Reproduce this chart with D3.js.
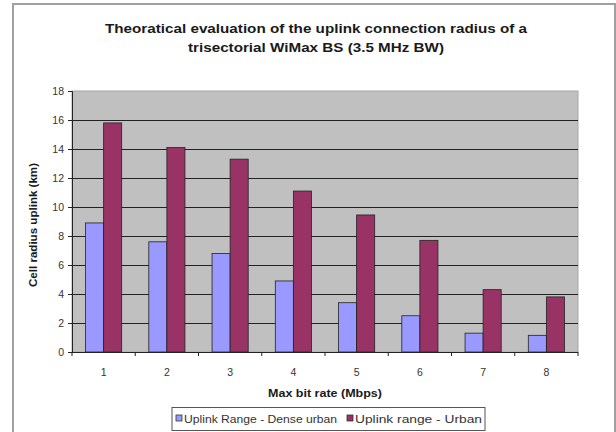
<!DOCTYPE html>
<html><head><meta charset="utf-8">
<script src="https://cdn.jsdelivr.net/npm/d3@7"></script>
<style>body{margin:0;background:#fff}svg{display:block;font-family:Arial,"Liberation Sans",sans-serif}</style>
</head><body>
<svg id="c" width="616" height="432"></svg>
<script>
const categories = ["1","2","3","4","5","6","7","8"];
const seriesNames = ["Uplink Range - Dense urban","Uplink range - Urban"];
const denseUrban = [8.9, 7.6, 6.8, 4.9, 3.4, 2.5, 1.3, 1.15];
const urban = [15.8, 14.1, 13.3, 11.1, 9.45, 7.7, 4.3, 3.8];
const yTicks = [0,2,4,6,8,10,12,14,16,18];
const colors = ["#9999ff","#993366"];
const titleLines = ["Theoratical evaluation of the uplink connection radius of a","trisectorial WiMax BS (3.5 MHz BW)"];

const svg = d3.select("#c");
svg.append("rect").attr("x",13).attr("y",4).attr("width",602).attr("height",440)
  .attr("fill","#fff").attr("stroke","#a0a0a0").attr("stroke-width",2);

const L=72, R=578, T=91, B=352;
const x = d3.scaleBand().domain(categories).range([L,R]);
const y = d3.scaleLinear().domain([0,18]).range([B,T]);
const sub = d3.scaleBand().domain([0,1]).range([0, x.bandwidth()]).paddingInner(0).paddingOuter(0.75);

svg.append("rect").attr("x",L).attr("y",T).attr("width",R-L).attr("height",B-T)
  .attr("fill","#c0c0c0").attr("stroke","#a8a8a8");

svg.append("g").selectAll("line").data(yTicks.filter(d=>d>0 && d<18)).join("line")
  .attr("x1",L).attr("x2",R).attr("y1",d=>y(d)+0.5).attr("y2",d=>y(d)+0.5)
  .attr("stroke","#222").attr("stroke-width",1);

const data = categories.map((c,i)=>({c, v:[denseUrban[i], urban[i]]}));
const g = svg.append("g");
data.forEach(d=>{
  d.v.forEach((v,j)=>{
    g.append("rect").attr("x",x(d.c)+sub(j)).attr("y",y(v))
      .attr("width",sub.bandwidth()).attr("height",B-y(v))
      .attr("fill",colors[j]).attr("stroke","#222").attr("stroke-width",0.8);
  });
});

const ya = svg.append("g").attr("transform",`translate(${L},0)`)
  .call(d3.axisLeft(y).tickValues(yTicks).tickSize(4).tickPadding(4));
ya.selectAll("text").attr("font-size",10.5).attr("fill","#333").attr("font-family","Arial, Liberation Sans, sans-serif");
ya.selectAll("line,path").attr("stroke","#222");

const xa = svg.append("g").attr("transform",`translate(0,${B})`);
xa.append("line").attr("x1",L).attr("x2",R).attr("y1",0.5).attr("y2",0.5).attr("stroke","#222");
const bounds = categories.map(c=>x(c)).concat([R]);
xa.selectAll("line.t").data(bounds).join("line").attr("class","t")
  .attr("x1",d=>d).attr("x2",d=>d).attr("y1",0).attr("y2",4).attr("stroke","#222");
xa.selectAll("text").data(categories).join("text")
  .attr("x",d=>x(d)+x.bandwidth()/2).attr("y",24).attr("text-anchor","middle")
  .attr("font-size",10.5).attr("fill","#333").text(d=>d);

const titleW = [422, 256];
svg.selectAll("text.title").data(titleLines).join("text").attr("class","title")
  .attr("x",316).attr("y",(d,i)=>33+i*19).attr("text-anchor","middle")
  .attr("textLength",(d,i)=>titleW[i]).attr("lengthAdjust","spacingAndGlyphs")
  .attr("font-size",13).attr("font-weight","bold").attr("fill","#1a1a1a").text(d=>d);

svg.append("text").attr("x",(L+R)/2).attr("y",397).attr("text-anchor","middle")
  .attr("textLength",114).attr("lengthAdjust","spacingAndGlyphs")
  .attr("font-size",11).attr("font-weight","bold").attr("fill","#1a1a1a").text("Max bit rate (Mbps)");

svg.append("text").attr("transform",`translate(37,225) rotate(-90)`).attr("text-anchor","middle")
  .attr("textLength",124).attr("lengthAdjust","spacingAndGlyphs")
  .attr("font-size",11).attr("font-weight","bold").attr("fill","#1a1a1a").text("Cell radius uplink (km)");

const lg = svg.append("g");
lg.append("rect").attr("x",172).attr("y",407.5).attr("width",313).attr("height",23)
  .attr("fill","#fff").attr("stroke","#555").attr("stroke-width",1);
const lx = [176, 347];
const lw = [153, 127];
seriesNames.forEach((n,i)=>{
  lg.append("rect").attr("x",lx[i]).attr("y",415).attr("width",6).attr("height",6)
    .attr("fill",colors[i]).attr("stroke","#333").attr("stroke-width",0.8);
  lg.append("text").attr("x",lx[i]+8).attr("y",423).attr("font-size",11.5).attr("fill","#333")
    .attr("textLength",lw[i]).attr("lengthAdjust","spacingAndGlyphs").text(n);
});
</script>
</body></html>
